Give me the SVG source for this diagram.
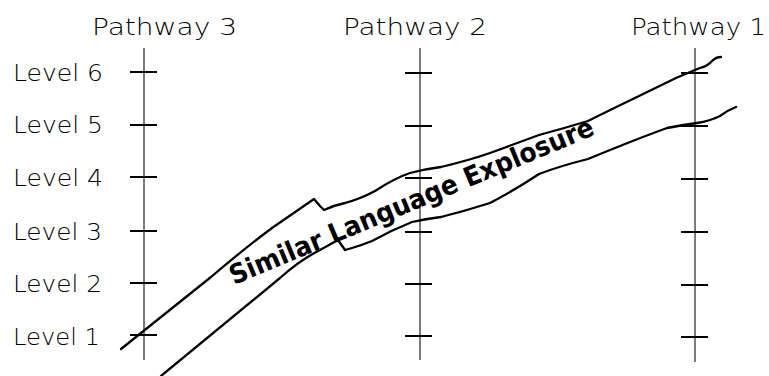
<svg xmlns="http://www.w3.org/2000/svg" width="769" height="376" viewBox="0 0 769 376">
<style>
.bg{fill:#fff}
.axis{stroke:#333;stroke-width:1.3;fill:none}
.tick{stroke:#000;stroke-width:2;fill:none}
.lbl{font-family:"DejaVu Sans","Liberation Sans",sans-serif;font-size:23px;font-weight:300;fill:#000}
.edge{stroke:#000;stroke-width:2.3;fill:none;stroke-linecap:round;stroke-linejoin:round}
.band{font-family:"DejaVu Sans","Liberation Sans",sans-serif;font-size:27px;font-weight:bold;fill:#000}
</style>
<defs>
<g id="ticks">
<line class="tick" x1="-14" y1="0" x2="13" y2="0"/>
</g>
</defs>
<rect class="bg" x="0" y="0" width="769" height="376"/>

<g id="pathway3">
<text class="lbl" x="92" y="35" textLength="145" lengthAdjust="spacingAndGlyphs">Pathway 3</text>
<line class="axis" x1="144" y1="48" x2="144" y2="360"/>
<use href="#ticks" x="144" y="72"/>
<use href="#ticks" x="144" y="125"/>
<use href="#ticks" x="144" y="177"/>
<use href="#ticks" x="144" y="231"/>
<use href="#ticks" x="144" y="283"/>
<use href="#ticks" x="144" y="335"/>
</g>

<g id="pathway2">
<text class="lbl" x="343" y="35" textLength="144" lengthAdjust="spacingAndGlyphs">Pathway 2</text>
<line class="axis" x1="420" y1="48" x2="420" y2="360"/>
<use href="#ticks" x="419" y="73"/>
<use href="#ticks" x="419" y="126"/>
<use href="#ticks" x="419" y="178"/>
<use href="#ticks" x="419" y="232"/>
<use href="#ticks" x="419" y="284"/>
<use href="#ticks" x="419" y="336"/>
</g>

<g id="pathway1">
<text class="lbl" x="631" y="35" textLength="135" lengthAdjust="spacingAndGlyphs">Pathway 1</text>
<line class="axis" x1="695" y1="48" x2="695" y2="362"/>
<use href="#ticks" x="695" y="73"/>
<use href="#ticks" x="695" y="126"/>
<use href="#ticks" x="695" y="179"/>
<use href="#ticks" x="695" y="232"/>
<use href="#ticks" x="695" y="285"/>
<use href="#ticks" x="695" y="337"/>
</g>

<g id="levels">
<text class="lbl" x="13" y="81" textLength="90" lengthAdjust="spacingAndGlyphs">Level 6</text>
<text class="lbl" x="13" y="133" textLength="90" lengthAdjust="spacingAndGlyphs">Level 5</text>
<text class="lbl" x="13" y="186" textLength="90" lengthAdjust="spacingAndGlyphs">Level 4</text>
<text class="lbl" x="13" y="240" textLength="89" lengthAdjust="spacingAndGlyphs">Level 3</text>
<text class="lbl" x="13" y="292" textLength="89" lengthAdjust="spacingAndGlyphs">Level 2</text>
<text class="lbl" x="13" y="345" textLength="87" lengthAdjust="spacingAndGlyphs">Level 1</text>
</g>

<g id="connectors">
<g id="band">
<path class="edge" d="M121,349 L211,277 Q245,248 272,228 L314,199 L320,206 L324,210 Q335,205 345,203 Q360,199 375,191 Q395,178 410,173 Q425,169 441,167 Q470,160 490,153 L539,135 Q565,128 588,121 Q610,110 637,97 L676,78 Q690,72 700,68 Q708,66 712,61 Q716,57 721,57"/>
<path class="edge" d="M161,376 L280,278 Q300,260 320,250 L338,240 L345,250 L352,248 Q362,245 372,241 Q392,230 412,222 Q425,219 441,217 Q465,211 490,203 Q515,190 539,174 Q560,166 588,159 Q605,152 620,146 Q645,136 667,128 Q682,125 697,123 Q710,121 720,116 Q728,110 736,107"/>
<text class="band" x="234" y="285" transform="rotate(-22.6 234 285)" textLength="392" lengthAdjust="spacingAndGlyphs">Similar Language Explosure</text>
</g>
</g>
</svg>
